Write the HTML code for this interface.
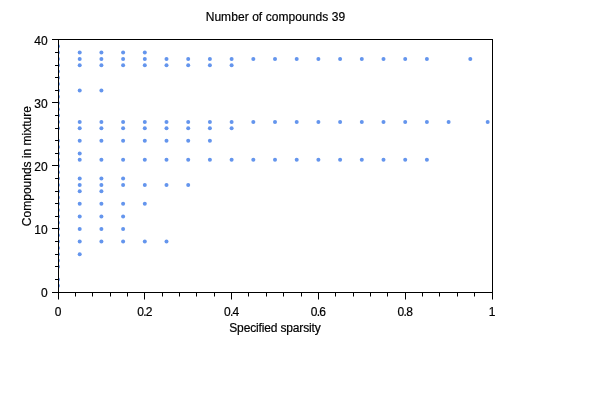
<!DOCTYPE html>
<html><head><meta charset="utf-8"><title>Number of compounds 39</title>
<style>
html,body{margin:0;padding:0;background:#fff;}
body{width:600px;height:400px;overflow:hidden;}
svg{display:block;}
text{font-family:"Liberation Sans",Arial,sans-serif;font-size:12px;fill:#000;stroke:#000;stroke-width:0.2px;}
.ax path,.ax rect{stroke:#000;stroke-width:1;fill:none;}
.pt circle{fill:#6495ED;}
</style></head><body>
<svg width="600" height="400" viewBox="0 0 600 400">
<rect width="600" height="400" fill="#fff"/>
<defs><clipPath id="c"><rect x="58" y="39" width="435" height="254"/></clipPath></defs>
<g class="pt" clip-path="url(#c)">
<circle cx="58.00" cy="285.70" r="2"/><circle cx="58.00" cy="279.40" r="2"/><circle cx="58.00" cy="266.80" r="2"/><circle cx="58.00" cy="260.50" r="2"/><circle cx="58.00" cy="254.20" r="2"/><circle cx="58.00" cy="247.90" r="2"/><circle cx="58.00" cy="241.60" r="2"/><circle cx="58.00" cy="235.30" r="2"/><circle cx="58.00" cy="229.00" r="2"/><circle cx="58.00" cy="222.70" r="2"/><circle cx="58.00" cy="216.40" r="2"/><circle cx="58.00" cy="210.10" r="2"/><circle cx="58.00" cy="203.80" r="2"/><circle cx="58.00" cy="197.50" r="2"/><circle cx="58.00" cy="191.20" r="2"/><circle cx="58.00" cy="184.90" r="2"/><circle cx="58.00" cy="178.60" r="2"/><circle cx="58.00" cy="172.30" r="2"/><circle cx="58.00" cy="166.00" r="2"/><circle cx="58.00" cy="159.70" r="2"/><circle cx="58.00" cy="153.40" r="2"/><circle cx="58.00" cy="147.10" r="2"/><circle cx="58.00" cy="140.80" r="2"/><circle cx="58.00" cy="128.20" r="2"/><circle cx="58.00" cy="121.90" r="2"/><circle cx="58.00" cy="115.60" r="2"/><circle cx="58.00" cy="109.30" r="2"/><circle cx="58.00" cy="103.00" r="2"/><circle cx="58.00" cy="96.70" r="2"/><circle cx="58.00" cy="90.40" r="2"/><circle cx="58.00" cy="84.10" r="2"/><circle cx="58.00" cy="77.80" r="2"/><circle cx="58.00" cy="71.50" r="2"/><circle cx="58.00" cy="65.20" r="2"/><circle cx="58.00" cy="58.90" r="2"/><circle cx="58.00" cy="52.60" r="2"/><circle cx="58.00" cy="46.30" r="2"/><circle cx="79.70" cy="52.60" r="2"/><circle cx="79.70" cy="58.90" r="2"/><circle cx="79.70" cy="65.20" r="2"/><circle cx="79.70" cy="90.40" r="2"/><circle cx="79.70" cy="121.90" r="2"/><circle cx="79.70" cy="128.20" r="2"/><circle cx="79.70" cy="140.80" r="2"/><circle cx="79.70" cy="153.40" r="2"/><circle cx="79.70" cy="159.70" r="2"/><circle cx="79.70" cy="178.60" r="2"/><circle cx="79.70" cy="184.90" r="2"/><circle cx="79.70" cy="191.20" r="2"/><circle cx="79.70" cy="203.80" r="2"/><circle cx="79.70" cy="216.40" r="2"/><circle cx="79.70" cy="229.00" r="2"/><circle cx="79.70" cy="241.60" r="2"/><circle cx="79.70" cy="254.20" r="2"/><circle cx="101.40" cy="52.60" r="2"/><circle cx="101.40" cy="58.90" r="2"/><circle cx="101.40" cy="65.20" r="2"/><circle cx="101.40" cy="90.40" r="2"/><circle cx="101.40" cy="121.90" r="2"/><circle cx="101.40" cy="128.20" r="2"/><circle cx="101.40" cy="140.80" r="2"/><circle cx="101.40" cy="159.70" r="2"/><circle cx="101.40" cy="178.60" r="2"/><circle cx="101.40" cy="184.90" r="2"/><circle cx="101.40" cy="191.20" r="2"/><circle cx="101.40" cy="203.80" r="2"/><circle cx="101.40" cy="216.40" r="2"/><circle cx="101.40" cy="229.00" r="2"/><circle cx="101.40" cy="241.60" r="2"/><circle cx="123.10" cy="52.60" r="2"/><circle cx="123.10" cy="58.90" r="2"/><circle cx="123.10" cy="65.20" r="2"/><circle cx="123.10" cy="121.90" r="2"/><circle cx="123.10" cy="128.20" r="2"/><circle cx="123.10" cy="140.80" r="2"/><circle cx="123.10" cy="159.70" r="2"/><circle cx="123.10" cy="178.60" r="2"/><circle cx="123.10" cy="184.90" r="2"/><circle cx="123.10" cy="203.80" r="2"/><circle cx="123.10" cy="216.40" r="2"/><circle cx="123.10" cy="229.00" r="2"/><circle cx="123.10" cy="241.60" r="2"/><circle cx="144.80" cy="52.60" r="2"/><circle cx="144.80" cy="58.90" r="2"/><circle cx="144.80" cy="65.20" r="2"/><circle cx="144.80" cy="121.90" r="2"/><circle cx="144.80" cy="128.20" r="2"/><circle cx="144.80" cy="140.80" r="2"/><circle cx="144.80" cy="159.70" r="2"/><circle cx="144.80" cy="184.90" r="2"/><circle cx="144.80" cy="203.80" r="2"/><circle cx="144.80" cy="241.60" r="2"/><circle cx="166.50" cy="58.90" r="2"/><circle cx="166.50" cy="65.20" r="2"/><circle cx="166.50" cy="121.90" r="2"/><circle cx="166.50" cy="128.20" r="2"/><circle cx="166.50" cy="140.80" r="2"/><circle cx="166.50" cy="159.70" r="2"/><circle cx="166.50" cy="184.90" r="2"/><circle cx="166.50" cy="241.60" r="2"/><circle cx="188.20" cy="58.90" r="2"/><circle cx="188.20" cy="65.20" r="2"/><circle cx="188.20" cy="121.90" r="2"/><circle cx="188.20" cy="128.20" r="2"/><circle cx="188.20" cy="140.80" r="2"/><circle cx="188.20" cy="159.70" r="2"/><circle cx="188.20" cy="184.90" r="2"/><circle cx="209.90" cy="58.90" r="2"/><circle cx="209.90" cy="65.20" r="2"/><circle cx="209.90" cy="121.90" r="2"/><circle cx="209.90" cy="128.20" r="2"/><circle cx="209.90" cy="140.80" r="2"/><circle cx="209.90" cy="159.70" r="2"/><circle cx="231.60" cy="58.90" r="2"/><circle cx="231.60" cy="65.20" r="2"/><circle cx="231.60" cy="121.90" r="2"/><circle cx="231.60" cy="128.20" r="2"/><circle cx="231.60" cy="159.70" r="2"/><circle cx="253.30" cy="58.90" r="2"/><circle cx="253.30" cy="121.90" r="2"/><circle cx="253.30" cy="159.70" r="2"/><circle cx="275.00" cy="58.90" r="2"/><circle cx="275.00" cy="121.90" r="2"/><circle cx="275.00" cy="159.70" r="2"/><circle cx="296.70" cy="58.90" r="2"/><circle cx="296.70" cy="121.90" r="2"/><circle cx="296.70" cy="159.70" r="2"/><circle cx="318.40" cy="58.90" r="2"/><circle cx="318.40" cy="121.90" r="2"/><circle cx="318.40" cy="159.70" r="2"/><circle cx="340.10" cy="58.90" r="2"/><circle cx="340.10" cy="121.90" r="2"/><circle cx="340.10" cy="159.70" r="2"/><circle cx="361.80" cy="58.90" r="2"/><circle cx="361.80" cy="121.90" r="2"/><circle cx="361.80" cy="159.70" r="2"/><circle cx="383.50" cy="58.90" r="2"/><circle cx="383.50" cy="121.90" r="2"/><circle cx="383.50" cy="159.70" r="2"/><circle cx="405.20" cy="58.90" r="2"/><circle cx="405.20" cy="121.90" r="2"/><circle cx="405.20" cy="159.70" r="2"/><circle cx="426.90" cy="58.90" r="2"/><circle cx="426.90" cy="121.90" r="2"/><circle cx="426.90" cy="159.70" r="2"/><circle cx="448.60" cy="121.90" r="2"/><circle cx="470.30" cy="58.90" r="2"/><circle cx="487.66" cy="121.90" r="2"/>
</g>
<g class="ax">
<rect x="58.5" y="39.5" width="434.0" height="253.0"/>
<path d="M55 279.5H58.5"/><path d="M55 266.5H58.5"/><path d="M55 254.5H58.5"/><path d="M55 241.5H58.5"/><path d="M52 228.5H58.5"/><path d="M55 216.5H58.5"/><path d="M55 203.5H58.5"/><path d="M55 191.5H58.5"/><path d="M55 178.5H58.5"/><path d="M52 165.5H58.5"/><path d="M55 153.5H58.5"/><path d="M55 140.5H58.5"/><path d="M55 128.5H58.5"/><path d="M55 115.5H58.5"/><path d="M52 102.5H58.5"/><path d="M55 90.5H58.5"/><path d="M55 77.5H58.5"/><path d="M55 65.5H58.5"/><path d="M55 52.5H58.5"/><path d="M52 39.5H58.5"/><path d="M52 292.5H58.5"/><path d="M58.5 292.5V299.5"/><path d="M75.5 292.5V296.5"/><path d="M92.5 292.5V296.5"/><path d="M110.5 292.5V296.5"/><path d="M127.5 292.5V296.5"/><path d="M144.5 292.5V299.5"/><path d="M162.5 292.5V296.5"/><path d="M179.5 292.5V296.5"/><path d="M196.5 292.5V296.5"/><path d="M214.5 292.5V296.5"/><path d="M231.5 292.5V299.5"/><path d="M248.5 292.5V296.5"/><path d="M266.5 292.5V296.5"/><path d="M283.5 292.5V296.5"/><path d="M301.5 292.5V296.5"/><path d="M318.5 292.5V299.5"/><path d="M335.5 292.5V296.5"/><path d="M353.5 292.5V296.5"/><path d="M370.5 292.5V296.5"/><path d="M387.5 292.5V296.5"/><path d="M405.5 292.5V299.5"/><path d="M422.5 292.5V296.5"/><path d="M439.5 292.5V296.5"/><path d="M457.5 292.5V296.5"/><path d="M474.5 292.5V296.5"/><path d="M492.5 292.5V299.5"/>
</g>
<text x="275.4" y="21" text-anchor="middle" textLength="139.5" lengthAdjust="spacing">Number of compounds 39</text>
<text x="275" y="332" text-anchor="middle" textLength="91.5" lengthAdjust="spacing">Specified sparsity</text>
<text transform="translate(31.4 166.1) rotate(-90)" text-anchor="middle">Compounds in mixture</text>
<text x="47.6" y="296.70" text-anchor="end">0</text><text x="47.6" y="233.70" text-anchor="end">10</text><text x="47.6" y="170.70" text-anchor="end">20</text><text x="47.6" y="107.70" text-anchor="end">30</text><text x="47.6" y="44.70" text-anchor="end">40</text>
<text x="58.00" y="316" text-anchor="middle">0</text><text x="144.80" y="316" text-anchor="middle" textLength="15.3" lengthAdjust="spacing">0.2</text><text x="231.60" y="316" text-anchor="middle" textLength="15.3" lengthAdjust="spacing">0.4</text><text x="318.40" y="316" text-anchor="middle" textLength="15.3" lengthAdjust="spacing">0.6</text><text x="405.20" y="316" text-anchor="middle" textLength="15.3" lengthAdjust="spacing">0.8</text><text x="492.00" y="316" text-anchor="middle">1</text>
</svg>
</body></html>
